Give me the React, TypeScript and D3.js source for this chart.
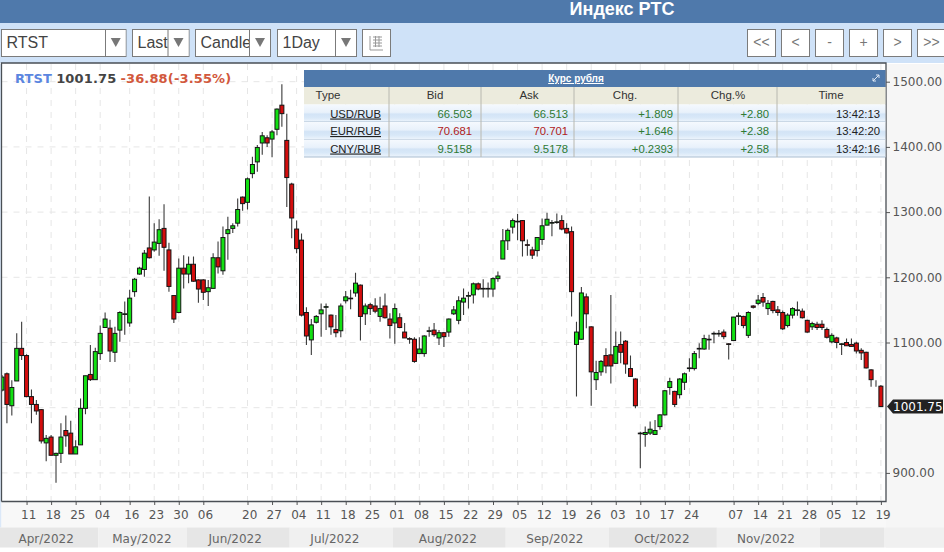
import React, { useEffect, useRef } from 'react';
import * as d3 from 'd3';

// daily RTS index candles
const opens = [1027,1052,1003,1041,1091,1080,1017,1005,997,946,955,927,930,965,961,929,943,999,1051,1043,1083,1123,1122,1085,1119,1143,1130,1178,1205,1212,1245,1242,1252,1275,1242,1172,1146,1214,1205,1220,1196,1196,1178,1183,1230,1210,1267,1275,1283,1323,1315,1359,1377,1406,1414,1412,1427,1464,1410,1343,1274,1257,1146,1104,1131,1144,1154,1142,1120,1118,1164,1167,1176,1188,1144,1158,1156,1140,1156,1136,1130,1138,1116,1106,1105,1083,1083,1117,1119,1107,1115,1116,1144,1134,1162,1171,1173,1190,1182,1182,1182,1198,1228,1256,1277,1285,1287,1250,1242,1241,1258,1280,1283,1284,1287,1275,1270,1097,1105,1170,1124,1043,1055,1080,1081,1068,1097,1102,1060,1044,960,959,961,959,971,989,1031,1025,1020,1039,1060,1060,1090,1090,1105,1113,1113,1116,1098,1103,1140,1140,1111,1156,1160,1169,1152,1163,1150,1146,1126,1142,1149,1148,1134,1124,1128,1128,1120,1101,1107,1097,1100,1097,1099,1088,1085,1058,1039,1033];
const highs = [1050,1054,1042,1114,1132,1082,1028,1012,998,958,958,931,976,988,980,950,1014,1049,1096,1092,1126,1146,1135,1124,1148,1163,1181,1199,1216,1242,1324,1283,1289,1312,1253,1173,1229,1234,1232,1232,1197,1197,1196,1237,1255,1278,1293,1283,1321,1324,1353,1385,1403,1423,1418,1426,1459,1496,1451,1345,1287,1267,1154,1136,1142,1160,1160,1143,1142,1160,1179,1181,1207,1189,1160,1161,1168,1170,1175,1145,1160,1145,1130,1108,1108,1108,1111,1124,1130,1119,1116,1137,1156,1171,1183,1178,1192,1192,1197,1192,1200,1209,1274,1275,1290,1297,1288,1258,1247,1262,1290,1299,1288,1298,1295,1283,1278,1132,1185,1175,1125,1072,1073,1091,1173,1117,1117,1104,1080,1045,963,971,979,981,990,1027,1046,1026,1045,1054,1076,1087,1099,1112,1112,1117,1119,1120,1099,1139,1146,1141,1148,1157,1173,1176,1165,1164,1156,1149,1145,1154,1163,1152,1135,1132,1132,1134,1123,1114,1109,1099,1106,1106,1101,1091,1086,1059,1042,1035];
const lows = [1025,976,988,1041,1073,1016,976,989,945,918,927,885,915,940,929,929,943,990,1041,1043,1073,1123,1070,1070,1101,1112,1124,1170,1204,1201,1229,1239,1233,1210,1178,1130,1145,1183,1191,1193,1161,1165,1156,1183,1206,1204,1227,1268,1278,1302,1304,1352,1362,1388,1400,1384,1418,1431,1308,1260,1237,1140,1096,1081,1129,1109,1119,1112,1108,1108,1160,1151,1170,1103,1127,1142,1145,1132,1137,1106,1098,1122,1107,1098,1069,1083,1078,1109,1109,1096,1093,1109,1142,1128,1142,1152,1160,1180,1169,1169,1170,1193,1228,1242,1267,1257,1232,1233,1228,1232,1250,1280,1263,1282,1272,1267,1140,1017,1104,1122,1003,1027,1049,1053,1037,1068,1068,1052,1048,999,907,940,958,958,966,988,1020,1001,1014,1027,1055,1057,1076,1089,1089,1099,1109,1105,1074,1103,1127,1122,1107,1152,1157,1155,1142,1145,1141,1119,1123,1137,1141,1137,1115,1119,1119,1119,1106,1099,1091,1081,1095,1094,1083,1073,1060,1032,1032,1001];
const closes = [1047,1005,1031,1091,1080,1017,1005,995,949,953,927,930,955,957,929,940,999,1049,1043,1086,1114,1136,1087,1114,1146,1144,1168,1197,1214,1237,1230,1254,1273,1246,1186,1136,1214,1205,1220,1194,1182,1177,1184,1230,1216,1261,1273,1279,1304,1313,1351,1373,1399,1417,1406,1423,1458,1451,1353,1291,1244,1142,1110,1127,1140,1150,1155,1124,1115,1156,1170,1168,1191,1140,1156,1152,1148,1152,1138,1126,1152,1123,1107,1105,1071,1090,1110,1118,1112,1115,1109,1136,1150,1164,1168,1172,1190,1182,1183,1183,1198,1202,1256,1272,1287,1286,1256,1249,1234,1261,1279,1289,1284,1285,1274,1268,1178,1116,1176,1144,1055,1054,1071,1064,1064,1094,1085,1067,1048,1003,961,962,967,965,989,1026,1040,1005,1044,1052,1061,1083,1091,1106,1104,1114,1114,1109,1097,1139,1141,1126,1146,1154,1165,1162,1160,1149,1146,1121,1142,1152,1150,1138,1116,1129,1123,1123,1108,1111,1100,1098,1095,1094,1087,1084,1061,1043,1039,1001.75];

const priceTicks = [900, 1000, 1100, 1200, 1300, 1400, 1500];
const labelledPrices = [900, 1100, 1200, 1300, 1400, 1500];
const dayTickIndex = [5,10,15,20,26,31,36,41,50,55,60,65,70,75,80,85,90,95,100,105,110,115,120,125,130,135,140,149,154,159,164,169,174,179];
const dayTickLabels = ['11','18','25','04','16','23','30','06','20','27','04','11','18','25','01','08','15','22','29','05','12','19','26','03','10','17','24','07','14','21','28','05','12','19'];
const monthLabels = ['Apr/2022','May/2022','Jun/2022','Jul/2022','Aug/2022','Sep/2022','Oct/2022','Nov/2022',''];
const monthStartIndex = [-1,20,38,59,80,103,124,146,167];
const monthLabelIndex = [9,28.5,47.5,67.8,90.8,112.6,134.4,155.6,172];

const tableColumns = ['Type', 'Bid', 'Ask', 'Chg.', 'Chg.%', 'Time'];
const pairs = ['USD/RUB', 'EUR/RUB', 'CNY/RUB'];
const bids = ['66.503', '70.681', '9.5158'];
const asks = ['66.513', '70.701', '9.5178'];
const changes = ['+1.809', '+1.646', '+0.2393'];
const changePct = ['+2.80', '+2.38', '+2.58'];
const times = ['13:42:13', '13:42:20', '13:42:16'];

const selects = [
  { label: 'RTST', x: 1.5, w: 124.5, arrow: 104 },
  { label: 'Last', x: 132.5, w: 56.5, arrow: 35.5 },
  { label: 'Candle', x: 195.5, w: 75, arrow: 54 },
  { label: '1Day', x: 277.5, w: 79, arrow: 58 },
];
const navButtons = ['<<', '<', '-', '+', '>', '>>'];

const sans = '"Liberation Sans", Arial, sans-serif';
const dejavu = '"DejaVu Sans", sans-serif';

export default function App() {
  const chartRef = useRef<SVGGElement | null>(null);

  useEffect(() => {
    if (!chartRef.current) return;
    const g = d3.select(chartRef.current);
    g.selectAll('*').remove();

    const plot = { left: 1.5, right: 886, top: 64, bottom: 501.5 };
    const x = d3.scaleLinear().domain([0, 179]).range([2, 880.9]);
    const y = d3.scaleLinear().domain([900, 1500]).range([472.9, 81.7]);

    // panel backgrounds
    g.append('rect').attr('x', 0).attr('y', plot.top).attr('width', plot.left).attr('height', 527.5 - plot.top).attr('fill', '#dbe8f8');
    g.append('rect').attr('x', plot.left).attr('y', plot.top).attr('width', plot.right - plot.left).attr('height', plot.bottom - plot.top).attr('fill', '#fff');
    g.append('rect').attr('x', plot.right).attr('y', plot.top).attr('width', 944 - plot.right).attr('height', 548 - plot.top).attr('fill', '#f6f6f6');
    g.append('rect').attr('x', plot.left).attr('y', plot.bottom).attr('width', plot.right - plot.left).attr('height', 26).attr('fill', '#f8f8f8');

    // month strip
    const months = g.append('g');
    monthStartIndex.forEach((start, i) => {
      const x0 = Math.max(0, x(start) - 2);
      const x1 = i < monthStartIndex.length - 1 ? x(monthStartIndex[i + 1]) - 2 : plot.right - 2;
      months.append('rect').attr('x', x0).attr('y', 527.5).attr('width', x1 - x0).attr('height', 20)
        .attr('fill', i % 2 === 0 ? '#e6e6e6' : '#f0f0f0');
      months.append('text').attr('x', x(monthLabelIndex[i])).attr('y', 542.7).attr('text-anchor', 'middle')
        .attr('font-family', dejavu).attr('font-size', 12).attr('fill', '#666')
        .text(monthLabels[i]);
    });
    g.append('rect').attr('x', plot.right - 2).attr('y', 527.5).attr('width', 944 - plot.right + 2).attr('height', 20).attr('fill', '#f0f0f0');

    // grid
    const grid = g.append('g').attr('stroke', '#e6e6e6').attr('stroke-dasharray', '6,6');
    priceTicks.forEach(t => {
      grid.append('line').attr('x1', plot.left).attr('x2', plot.right).attr('y1', y(t)).attr('y2', y(t));
    });
    dayTickIndex.forEach(i => {
      grid.append('line').attr('x1', x(i)).attr('x2', x(i)).attr('y1', plot.top).attr('y2', plot.bottom);
    });

    // candles
    g.append('clipPath').attr('id', 'plot-clip').append('rect')
      .attr('x', plot.left).attr('y', plot.top).attr('width', plot.right - plot.left).attr('height', plot.bottom - plot.top);
    const candles = g.append('g').attr('clip-path', 'url(#plot-clip)');
    const bodyW = 4;
    closes.forEach((c, i) => {
      const o = opens[i];
      candles.append('line').attr('x1', x(i)).attr('x2', x(i)).attr('y1', y(highs[i])).attr('y2', y(lows[i]))
        .attr('stroke', '#3a3a3a').attr('stroke-width', 1.1);
      candles.append('rect').attr('x', x(i) - bodyW / 2).attr('width', bodyW)
        .attr('y', y(Math.max(o, c))).attr('height', Math.abs(y(o) - y(c)))
        .attr('fill', c >= o ? '#12e012' : '#d40d0d').attr('stroke', '#141414').attr('stroke-width', 1);
    });

    // axes
    const yAxis = g.append('g').attr('transform', `translate(${plot.right},0)`)
      .call(d3.axisRight(y).tickValues(labelledPrices).tickFormat(d3.format('.2f') as any).tickSize(4).tickPadding(2.6));
    yAxis.select('.domain').remove();
    yAxis.selectAll('text').attr('font-family', dejavu).attr('font-size', 12).attr('fill', '#555');
    yAxis.selectAll('line').attr('stroke', '#555');

    const xAxis = g.append('g').attr('transform', `translate(0,${plot.bottom})`)
      .call(d3.axisBottom(x).tickValues(dayTickIndex).tickFormat((_, i) => dayTickLabels[i]).tickSize(3.5).tickPadding(5));
    xAxis.select('.domain').remove();
    xAxis.selectAll('text').attr('font-family', dejavu).attr('font-size', 12).attr('dx', 1.7).attr('fill', '#555');
    xAxis.selectAll('line').attr('stroke', '#555');

    // frame
    g.append('path').attr('d', d3.line()([[plot.left, plot.bottom], [plot.left, plot.top - 1], [plot.right, plot.top - 1], [plot.right, plot.bottom], [plot.left, plot.bottom]]))
      .attr('fill', 'none').attr('stroke', '#4a4f55').attr('stroke-width', 1.3);

    // last price tag
    const last = closes[closes.length - 1];
    const ty = y(last);
    g.append('path').attr('d', d3.line()([[887, ty], [893, ty - 7], [943, ty - 7], [943, ty + 7], [893, ty + 7]])! + 'Z').attr('fill', '#222');
    g.append('text').attr('x', 893).attr('y', ty + 4.5).attr('font-family', dejavu).attr('font-size', 12)
      .attr('fill', '#fff').text(d3.format('.2f')(last));
  }, []);

  const colRight = [381, 472, 568, 673, 769, 880];
  const colHeadX = [328, 435, 529, 625, 728, 831];
  const colSep = [389, 481, 574, 678, 777];
  const rowTop = [104.5, 122, 139.5];
  const rowH = 17.5;

  return (
    <svg width={944} height={552} style={{ position: 'absolute', left: 0, top: 0, display: 'block' }}>
      <defs>
        <linearGradient id="rowGrad" x1="0" x2="0" y1="0" y2="1">
          <stop offset="0" stopColor="#f5f9fe" />
          <stop offset="0.45" stopColor="#e8f1fb" />
          <stop offset="0.55" stopColor="#d3e4f6" />
          <stop offset="0.75" stopColor="#d8e8f8" />
          <stop offset="1" stopColor="#eef5fc" />
        </linearGradient>
      </defs>
      <rect width={944} height={552} fill="#fff" />
      {/* title and toolbar */}
      <rect width={944} height={23} fill="#4f79ab" />
      <rect y={23} width={944} height={40} fill="#cfe2f8" />
      <text x={622} y={14.5} textAnchor="middle" fontFamily={sans} fontSize={18} fontWeight="bold" fill="#fff">Индекс РТС</text>
      {selects.map(s => (
        <g key={s.label}>
          <rect x={s.x} y={29.5} width={s.w} height={27} fill="#fff" stroke="#7b7b7b" />
          <text x={s.x + 5} y={48} fontFamily={sans} fontSize={16} fill="#444">{s.label}</text>
          <rect x={s.x + s.arrow + 0.5} y={30} width={s.w - s.arrow - 1} height={26} fill="#fff" />
          <line x1={s.x + s.arrow} x2={s.x + s.arrow} y1={29.5} y2={56.5} stroke="#7b7b7b" />
          <path d={`M${s.x + s.arrow + (s.w - s.arrow) / 2 - 5},38 h10 l-5,9 z`} fill="#777" />
        </g>
      ))}
      <rect x={362.5} y={29.5} width={28} height={27} fill="#fff" stroke="#7b7b7b" />
      <path d="M370,36 v14 h13 M373,37 h9 M373,40 h9 M373,43 h9 M373,46 h9 M375.5,36 v11 M379,36 v11" fill="none" stroke="#999" />
      {navButtons.map((b, i) => (
        <g key={b + i}>
          <rect x={747.5 + i * 34} y={29.5} width={28} height={27} fill="#fff" stroke="#7b7b7b" />
          <text x={761.5 + i * 34} y={47} textAnchor="middle" fontFamily={sans} fontSize={14} fill="#777">{b}</text>
        </g>
      ))}

      <g ref={chartRef} />

      {/* chart legend */}
      <text x={15} y={83} fontFamily={dejavu} fontSize={13} fontWeight="bold" letterSpacing={0.15}>
        <tspan fill="#5b86e0">RTST</tspan>
        <tspan fill="#444" dx={4}>1001.75</tspan>
        <tspan fill="#d2583c" dx={4}>-36.88(-3.55%)</tspan>
      </text>

      {/* ruble rate table */}
      <rect x={304} y={70} width={581.5} height={17} fill="#4f79ab" />
      <text x={576} y={82} textAnchor="middle" fontFamily={sans} fontSize={10} fontWeight="bold" fill="#fff" textDecoration="underline">Курс рубля</text>
      <path d="M873,81 l6,-6 M876,75 h3 v3 M873,78 v3 h3" fill="none" stroke="#dfe9f5" />
      <rect x={304} y={87} width={581.5} height={17.5} fill="#ecebdd" />
      {tableColumns.map((c, i) => (
        <text key={c} x={colHeadX[i]} y={99} textAnchor="middle" fontFamily={sans} fontSize={11.5} fill="#333">{c}</text>
      ))}
      {pairs.map((p, r) => (
        <g key={p}>
          <rect x={304} y={rowTop[r]} width={581.5} height={rowH} fill="url(#rowGrad)" />
          <line x1={304} x2={885.5} y1={rowTop[r] + rowH} y2={rowTop[r] + rowH} stroke="#a9bdd1" />
          <text x={colRight[0]} y={rowTop[r] + 13} textAnchor="end" fontFamily={sans} fontSize={11.3} fill="#222" textDecoration="underline">{p}</text>
          {[bids[r], asks[r]].map((v, k) => (
            <text key={k} x={colRight[k + 1]} y={rowTop[r] + 13} textAnchor="end" fontFamily={sans} fontSize={11.3} fill={p === 'EUR/RUB' ? '#b02020' : '#2f7a33'}>{v}</text>
          ))}
          <text x={colRight[3]} y={rowTop[r] + 13} textAnchor="end" fontFamily={sans} fontSize={11.3} fill="#2f7a33">{changes[r]}</text>
          <text x={colRight[4]} y={rowTop[r] + 13} textAnchor="end" fontFamily={sans} fontSize={11.3} fill="#2f7a33">{changePct[r]}</text>
          <text x={colRight[5]} y={rowTop[r] + 13} textAnchor="end" fontFamily={sans} fontSize={11.3} fill="#222">{times[r]}</text>
        </g>
      ))}
      {colSep.map(s => (
        <line key={s} x1={s} x2={s} y1={87} y2={157} stroke="#b8b8b0" />
      ))}
    </svg>
  );
}
